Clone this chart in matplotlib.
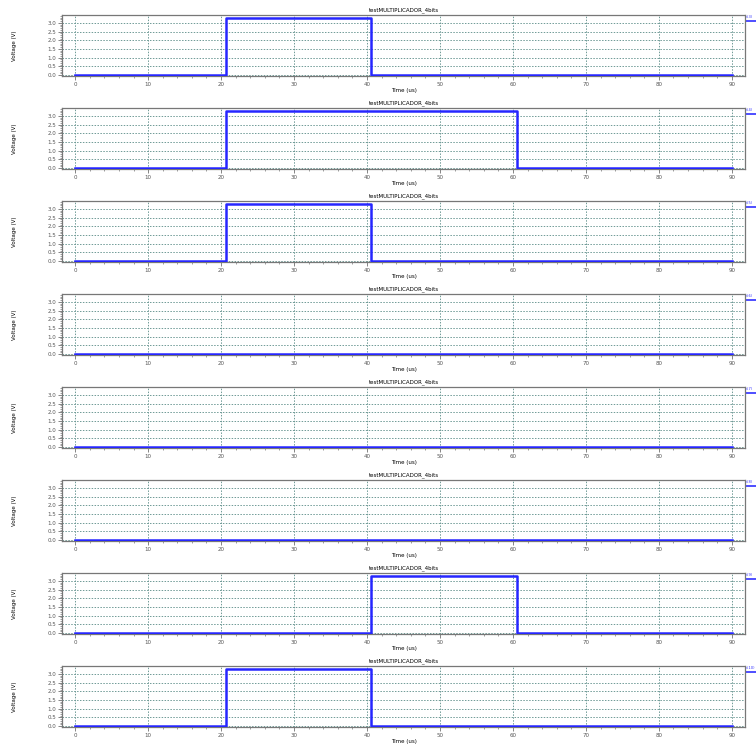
import matplotlib.pyplot as plt
import numpy as np
from matplotlib.ticker import MultipleLocator

# Waveforms: (time edges in us, voltage levels)
t_end = 90
high = 3.3
pulses = [
    [(20.7, 40.6)],
    [(20.7, 60.6)],
    [(20.7, 40.6)],
    [],
    [],
    [],
    [(40.6, 60.6)],
    [(20.7, 40.6)],
]
names = ['v(3)', 'v(4)', 'v(5)', 'v(6)', 'v(7)', 'v(8)', 'v(9)', 'v(10)']
title = 'testMULTIPLICADOR_4bits'

fig = plt.figure(figsize=(7.56, 7.44), dpi=100)

W, H = 756.0, 744.0
left, right = 62 / W, 745 / W
ax_h = 61 / H
step = 93 / H
top0 = 15 / H

grid_col = '#6f9a96'

for i, pl in enumerate(pulses):
    top = 1 - top0 - i * step
    ax = fig.add_axes([left, top - ax_h, right - left, ax_h])

    # build step waveform
    t = [0]
    v = [0]
    for (a, b) in pl:
        t += [a, a, b, b]
        v += [0, high, high, 0]
    t.append(t_end)
    v.append(0)
    ax.plot(t, v, color='#2626ff', lw=1.8, zorder=3)

    ax.set_xlim(-1.8, 91.8)
    ax.set_ylim(-0.05, 3.45)
    ax.xaxis.set_major_locator(MultipleLocator(10))
    ax.xaxis.set_minor_locator(MultipleLocator(2))
    ax.yaxis.set_major_locator(MultipleLocator(0.5))
    ax.yaxis.set_minor_locator(MultipleLocator(0.1))
    ax.yaxis.set_major_formatter(plt.FuncFormatter(lambda y, p: '%.1f' % y))
    ax.grid(True, which='major', color=grid_col, ls=(0, (1.5, 1.5)), lw=0.7)
    ax.tick_params(axis='both', which='major', labelsize=4, length=3, width=0.5,
                   pad=1.2, colors='#555555')
    ax.tick_params(axis='both', which='minor', length=1.5, width=0.4, colors='#555555')
    for s in ax.spines.values():
        s.set_color('#777777')
        s.set_linewidth(0.9)
    ax.set_title(title, fontsize=4, pad=2.5)
    ax.set_xlabel('Time (us)', fontsize=4, labelpad=1)
    ax.set_ylabel('Voltage (V)', fontsize=4, labelpad=22)

    # legend entry outside right edge
    ax.text(1.0015, 0.93, names[i], transform=ax.transAxes, fontsize=2.6,
            color='#3030ff', va='bottom', ha='left', clip_on=False)
    ax.plot([1.002, 1.03], [0.9, 0.9], transform=ax.transAxes, color='#3030ff',
            lw=1.2, clip_on=False)

fig.savefig('out.png', dpi=100)
